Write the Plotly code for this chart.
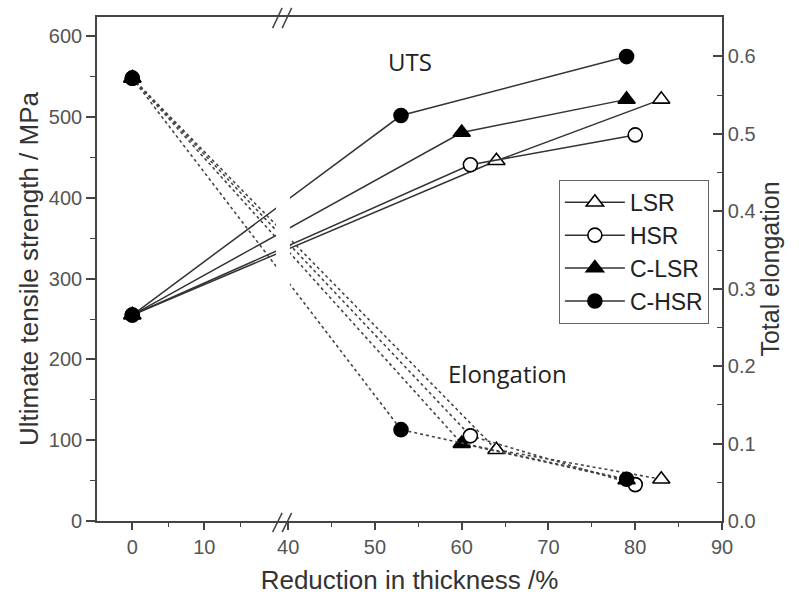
import plotly.graph_objects as go

# ---- data ----
series_names = ["LSR", "HSR", "C-LSR", "C-HSR"]
x_lsr = [0, 64, 83]
x_hsr = [0, 61, 80]
x_clsr = [0, 60, 79]
x_chsr = [0, 53, 79]
uts_lsr = [255, 446, 522]
uts_hsr = [255, 441, 478]
uts_clsr = [255, 481, 522]
uts_chsr = [255, 502, 575]
el_lsr = [0.572, 0.092, 0.054]
el_hsr = [0.572, 0.110, 0.047]
el_clsr = [0.572, 0.100, 0.053]
el_chsr = [0.572, 0.118, 0.054]
xtick_vals = [0, 10, 40, 50, 60, 70, 80, 90]
xminor_vals = [5, 15, 45, 55, 65, 75, 85]

# ---- broken x-axis scale (two linear segments: -5..~21 and ~39..90) ----
LEFT_RATIO = 7.2 / 8.68     # left segment is compressed relative to right
LEFT_OFFSET = 22.03         # position of x=0 in right-segment units
BREAK_AT = 25

def xmap(v):
    return LEFT_OFFSET + LEFT_RATIO * v if v < BREAK_AT else v

def xm(lst):
    return [xmap(v) for v in lst]

FONT = "Liberation Sans, Arial, sans-serif"
LINE_C = "#333333"

fig = go.Figure()

specs = [
    ("LSR", x_lsr, uts_lsr, el_lsr, "triangle-up", "white"),
    ("HSR", x_hsr, uts_hsr, el_hsr, "circle", "white"),
    ("C-LSR", x_clsr, uts_clsr, el_clsr, "triangle-up", "black"),
    ("C-HSR", x_chsr, uts_chsr, el_chsr, "circle", "black"),
]

# elongation (dotted, right axis) first so they sit under
for name, xs, uts, el, sym, fill in specs:
    fig.add_trace(go.Scatter(
        x=xm(xs), y=el, yaxis="y2", mode="lines+markers", showlegend=False,
        line=dict(color="#444444", width=1.6, dash="dot"),
        marker=dict(symbol=sym, size=15 if "triangle" in sym else 14,
                    color=fill, line=dict(color="black", width=1.6)),
        name=name + " elongation"))

for name, xs, uts, el, sym, fill in specs:
    fig.add_trace(go.Scatter(
        x=xm(xs), y=uts, yaxis="y", mode="lines+markers", name=name,
        line=dict(color=LINE_C, width=1.5),
        marker=dict(symbol=sym, size=15 if "triangle" in sym else 14,
                    color=fill, line=dict(color="black", width=1.6))))

# break gap + break marks
fig.add_shape(type="rect", xref="x", yref="paper", x0=38.6, x1=40.2,
              y0=0.004, y1=0.996, fillcolor="white", line=dict(width=0),
              layer="above")
for yb, yt in [(-0.022, 0.016), (0.978, 1.018)]:
    for xa, xb in [(38.2, 39.3), (39.3, 40.4)]:
        fig.add_shape(type="line", xref="x", yref="paper", x0=xa, x1=xb,
                      y0=yb, y1=yt, line=dict(color="#444444", width=1.5),
                      layer="above")

fig.add_annotation(x=xmap(54), y=0.593, xref="x", yref="y2", text="UTS",
                   showarrow=False, font=dict(family="Open Sans", size=24, color="#222"))
fig.add_annotation(x=xmap(65.3), y=0.19, xref="x", yref="y2", text="Elongation",
                   showarrow=False, font=dict(family="Open Sans", size=24, color="#222"))

axis_line = dict(showline=True, linecolor="#444444", linewidth=1.6,
                 showgrid=False, zeroline=False)

fig.update_layout(
    width=799, height=603,
    margin=dict(l=97, r=77, t=17, b=82),
    paper_bgcolor="white", plot_bgcolor="white",
    font=dict(family=FONT, color="#444444"),
    xaxis=dict(**axis_line, range=[17.96, 90], mirror=True,
               tickmode="array", tickvals=xm(xtick_vals),
               ticktext=[str(v) for v in xtick_vals],
               ticks="outside", ticklen=7, tickwidth=1.5, tickcolor="#444444",
               minor=dict(tickmode="array", tickvals=xm(xminor_vals),
                          ticks="outside", ticklen=4, tickwidth=1.3,
                          tickcolor="#444444"),
               tickfont=dict(size=20, color="#555555"),
               title=dict(text="Reduction in thickness /%", standoff=14,
                          font=dict(size=26, color="#333333"))),
    yaxis=dict(**axis_line, range=[0, 624], dtick=100, tick0=0,
               ticks="outside", ticklen=9, tickwidth=1.5, tickcolor="#444444",
               minor=dict(dtick=50, ticks="outside", ticklen=5, tickwidth=1.3,
                          tickcolor="#444444"),
               tickfont=dict(size=20, color="#555555"),
               title=dict(text="Ultimate tensile strength / MPa", standoff=3,
                          font=dict(size=26, color="#333333"))),
    yaxis2=dict(**axis_line, range=[0, 0.651], dtick=0.1, tick0=0,
                overlaying="y", side="right", tickformat=".1f",
                ticks="inside", ticklen=9, tickwidth=1.5, tickcolor="#444444",
                minor=dict(dtick=0.05, ticks="inside", ticklen=5, tickwidth=1.3,
                           tickcolor="#444444"),
                tickfont=dict(size=20, color="#555555"),
                title=dict(text="Total elongation", standoff=6,
                           font=dict(size=25, color="#333333"))),
    legend=dict(x=0.739, y=0.677, xanchor="left", yanchor="top",
                bgcolor="white", bordercolor="#666666", borderwidth=1,
                font=dict(size=23, color="#222222", family=FONT),
                itemwidth=60, tracegroupgap=0),
)

fig.write_html("out.html")
